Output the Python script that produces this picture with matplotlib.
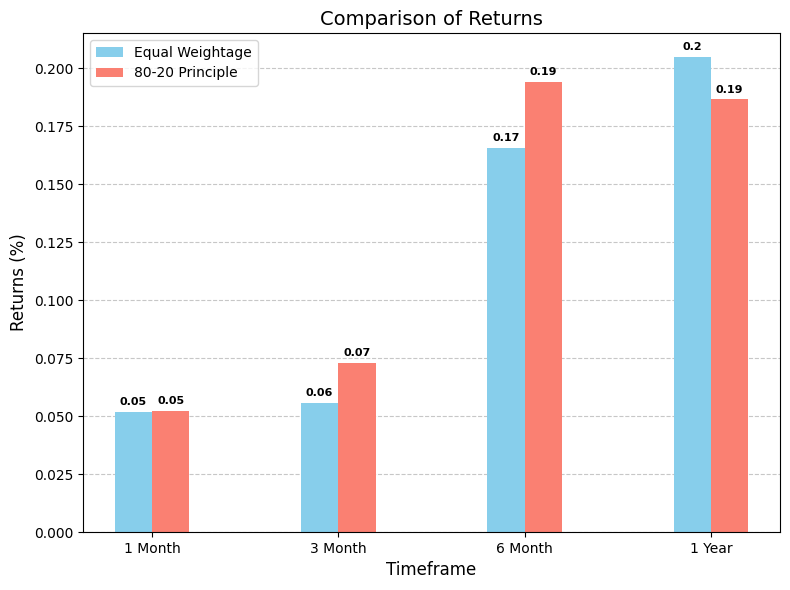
import matplotlib
matplotlib.use("Agg")
import matplotlib.pyplot as plt
import numpy as np

timeframes = ["1 Month", "3 Month", "6 Month", "1 Year"]
equal_weightage = [0.0519, 0.0557, 0.1657, 0.2049]
principle_80_20 = [0.0523, 0.0730, 0.1940, 0.1866]

fig, ax = plt.subplots(figsize=(7.9, 5.9), dpi=100)
x = np.arange(len(timeframes))
w = 0.2
b1 = ax.bar(x - w/2, equal_weightage, w, color="skyblue", label="Equal Weightage")
b2 = ax.bar(x + w/2, principle_80_20, w, color="salmon", label="80-20 Principle")

for bars in (b1, b2):
    for bar in bars:
        h = bar.get_height()
        ax.text(bar.get_x() + bar.get_width()/2, h + 0.002, f"{round(h, 2)}",
                ha="center", va="bottom", fontsize=8, fontweight="bold")

ax.set_xticks(x)
ax.set_xticklabels(timeframes)
ax.set_xlabel("Timeframe", fontsize=12)
ax.set_ylabel("Returns (%)", fontsize=12)
ax.set_title("Comparison of Returns", fontsize=14)
ax.legend(loc="upper left")
ax.grid(axis="y", linestyle="--", alpha=0.7)
ax.set_axisbelow(True)
fig.subplots_adjust(left=83/790, right=780/790, top=1 - 33/590, bottom=1 - 532/590)
fig.savefig("out.png")
